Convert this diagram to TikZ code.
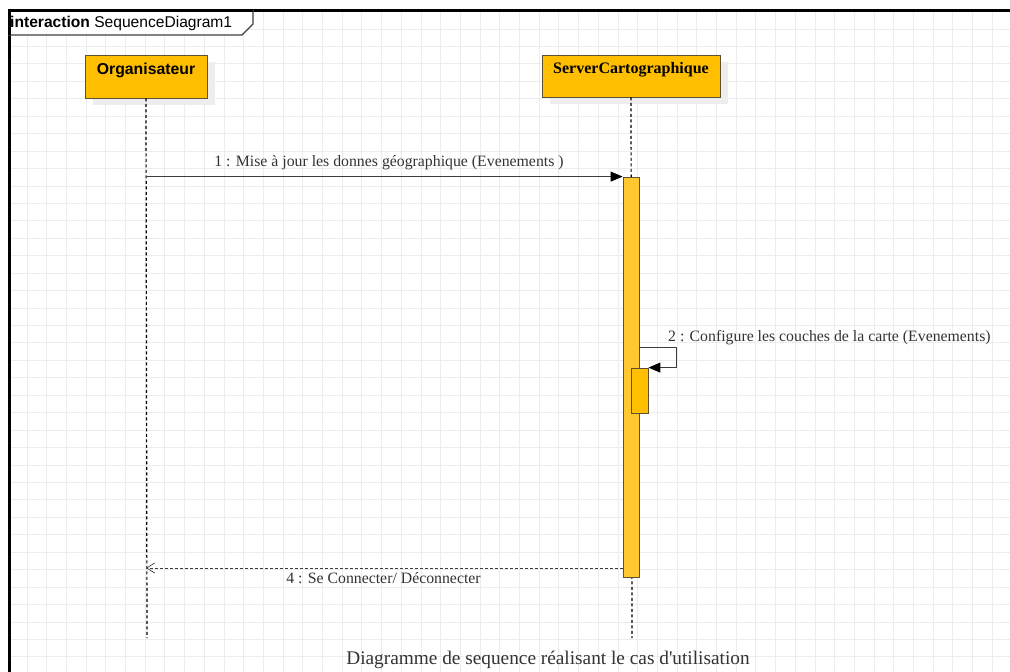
\documentclass[tikz,border=0pt]{standalone}
\usepackage{fontspec}
\setmainfont{Liberation Serif}
\setsansfont{Liberation Sans}
\newfontfamily\capfont{Liberation Serif}
\usetikzlibrary{arrows.meta}
\definecolor{lifebox}{HTML}{FFBF00}
\definecolor{actbar}{HTML}{FFC82E}
\definecolor{boxedge}{HTML}{5A5230}
\definecolor{gridc}{HTML}{ECECEC}
\definecolor{msgc}{HTML}{3C3C3C}
\definecolor{txtc}{HTML}{333333}
\begin{document}
\begin{tikzpicture}[x=1pt,y=-1pt,
  objbox/.style={draw=boxedge,line width=0.8pt,fill=lifebox,inner sep=0pt,
    text height=10pt,text depth=15pt,align=center},
  objshadow/.style={fill=black!7,draw=none},
  lifeline/.style={draw=black,line width=1.2pt,dash pattern=on 3pt off 2.5pt},
  actbox/.style={draw=boxedge,line width=0.8pt,fill=actbar,inner sep=0pt,minimum width=16pt},
  subact/.style={draw=boxedge,line width=0.8pt,fill=lifebox,inner sep=0pt,minimum width=17pt},
  call/.style={draw=msgc,line width=0.9pt,-{Triangle[length=12pt,width=10pt,color=black,fill=black]}},
  reply/.style={draw=msgc,line width=0.9pt,dash pattern=on 3pt off 2pt,
    -{Straight Barb[length=8pt,width=10pt,line width=0.7pt]}},
  msglabel/.style={font=\fontsize{15.8}{18}\selectfont,text=txtc,inner sep=0pt}]
\useasboundingbox (0,0) rectangle (1010,672);
\fill[white] (0,0) rectangle (1010,672);
% background grid inside the frame
\begin{scope}
  \clip (9,10) rectangle (1010,672);
  \foreach \i in {-1,...,51} \draw[gridc,line width=0.9pt] (27+19.7*\i,0) -- (27+19.7*\i,672);
  \foreach \j in {-2,...,37} \draw[gridc,line width=0.9pt] (0,29+17.44*\j) -- (1010,29+17.44*\j);
\end{scope}
% interaction frame and its name tab
\draw[line width=3pt,black] (9,672) -- (9,10) -- (1010,10);
\draw[line width=1.3pt,black!75,fill=white] (9,10) -- (253,10) -- (253,24) -- (242,35) -- (9,35) -- cycle;
\draw[line width=3pt,black] (9,35) -- (9,10) -- (253,10);
\node[anchor=west,inner sep=0pt,font=\sffamily\fontsize{15.6}{18}\selectfont] (tab) at (10,23)
  {\textbf{interaction} SequenceDiagram1};
% participants
\fill[objshadow] (93,62) rectangle (215,105);
\fill[objshadow] (550,62) rectangle (728,104);
\node[objbox,minimum width=122pt,minimum height=43pt,
  font=\sffamily\bfseries\fontsize{15.8}{18}\selectfont] (org) at (146,76.5) {Organisateur};
\node[objbox,minimum width=178pt,minimum height=42pt,
  font=\bfseries\fontsize{16}{18}\selectfont] (srv) at (631,76) {ServerCartographique};
% lifelines
\coordinate (orgend) at (147,638);
\coordinate (srvend) at (632,638);
\draw[lifeline] (org.south) -- (orgend);
\draw[lifeline] (srv.south) -- (srvend);
% activations
\node[actbox,minimum height=400pt] (bar1) at (631,377) {};
\node[subact,minimum height=45pt] (bar2) at (639.5,390.5) {};
% message 1
\draw[call] (org |- bar1.north west) -- (bar1.north west);
\node[msglabel] (m1) at (389,163) {1 : Mise à jour les donnes géographique (Evenements )};
% message 2 (self call)
\coordinate (s2) at (676,347);
\draw[call] (bar1.east |- s2) -- (s2) |- (bar2.north east);
\node[msglabel,anchor=west] (m2) at (668,338) {2 : Configure les couches de la carte (Evenements)};
% message 4 (reply)
\coordinate (r4) at (623,568);
\draw[reply] (bar1.west |- r4) -- (org |- r4);
\node[msglabel] (m4) at (383.5,578.5) {4 : Se Connecter/ Déconnecter};
% caption
\node[inner sep=0pt,text=txtc,font=\capfont\fontsize{19.3}{22}\selectfont] (cap) at (548,660)
  {Diagramme de sequence réalisant le cas d'utilisation};
\end{tikzpicture}
\end{document}
